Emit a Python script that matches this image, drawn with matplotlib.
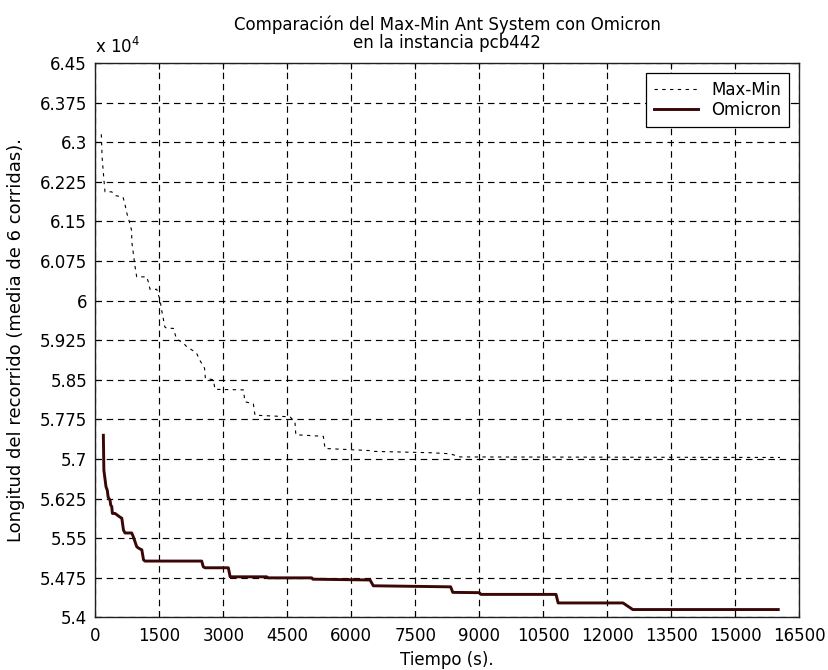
import matplotlib
matplotlib.use("Agg")
import matplotlib.pyplot as plt
from matplotlib.ticker import FuncFormatter, FixedLocator

plt.rcParams['font.family'] = ['DejaVu Sans']

# Max-Min Ant System (time in s, tour length)
maxmin_t = [140, 160, 200, 227, 385, 460, 650, 700, 740, 775, 850, 855, 890, 930,
            970, 1205, 1240, 1282, 1440, 1480, 1520, 1540, 1590, 1630, 1673, 1828,
            1905, 2060, 2140, 2370, 2450, 2560, 2580, 2766, 2806, 3469, 3509, 3704,
            3743, 4564, 4680, 4700, 5345, 5385, 6440, 6519, 7846, 8315, 8550, 16050]
maxmin_v = [63150, 62700, 62300, 62060, 62060, 61990, 61960, 61800, 61650, 61560,
            61330, 61110, 60900, 60650, 60450, 60450, 60360, 60214, 60214, 60100,
            60020, 59880, 59670, 59500, 59475, 59475, 59270, 59200, 59130, 59010,
            58870, 58720, 58530, 58500, 58320, 58310, 58085, 58045, 57830, 57800,
            57700, 57460, 57430, 57200, 57160, 57145, 57120, 57100, 57040, 57030]

# Omicron
omicron_t = [188, 200, 250, 280, 300, 345, 360, 385, 400, 462, 579, 620, 660, 696,
             853, 890, 970, 1010, 1090, 1130, 1165, 2494, 2530, 2571, 3118, 3160,
             4017, 4056, 5072, 5100, 6440, 6517, 8330, 8380, 9000, 9040, 10800,
             10850, 12370, 12600, 16010]
omicron_v = [57450, 56790, 56475, 56410, 56280, 56220, 56130, 56100, 55970, 55970,
             55900, 55880, 55655, 55600, 55600, 55530, 55340, 55315, 55280, 55090,
             55068, 55068, 54960, 54941, 54941, 54770, 54770, 54750, 54750, 54725,
             54710, 54600, 54580, 54475, 54470, 54437, 54437, 54275, 54275, 54150,
             54150]

xticks = [0, 1500, 3000, 4500, 6000, 7500, 9000, 10500, 12000, 13500, 15000, 16500]
yticks = [54000 + 750 * k for k in range(15)]

FS = 12

fig = plt.figure(figsize=(8.29, 6.70), dpi=100)
ax = fig.add_axes([0.115, 0.0784, 0.849, 0.8276])

ax.plot(maxmin_t, maxmin_v, color='black', linewidth=0.8,
        linestyle=(0, (3, 4)), label='Max-Min')
ax.plot(omicron_t, omicron_v, color='#3a0606', linewidth=2.1,
        linestyle='-', label='Omicron')

ax.set_xlim(0, 16500)
ax.set_ylim(54000, 64500)
ax.xaxis.set_major_locator(FixedLocator(xticks))
ax.yaxis.set_major_locator(FixedLocator(yticks))
ax.yaxis.set_major_formatter(FuncFormatter(lambda v, p: '%g' % round(v / 1e4, 4)))
ax.xaxis.set_major_formatter(FuncFormatter(lambda v, p: '%d' % v))

ax.grid(True, color='black', linestyle=(0, (5.5, 4)), linewidth=0.85)
ax.tick_params(axis='both', direction='in', length=4, width=0.8, top=True, right=True,
               labelsize=FS, colors='black')
ax.tick_params(axis='y', pad=6)
ax.tick_params(axis='x', pad=7)
for s in ax.spines.values():
    s.set_linewidth(1.0)
    s.set_color('#202020')

ax.text(0.0, 1.011, r'x 10$^{4}$', transform=ax.transAxes, fontsize=FS,
        ha='left', va='bottom')
ax.set_title('Comparación del Max-Min Ant System con Omicron\nen la instancia pcb442',
             fontsize=FS, pad=11, linespacing=1.0)
ax.set_xlabel('Tiempo (s).', fontsize=FS, labelpad=4)
ax.set_ylabel('Longitud del recorrido (media de 6 corridas).', fontsize=13)
ax.yaxis.set_label_coords(-0.100, 0.5)

leg = ax.legend(loc='upper right', fontsize=FS, frameon=True, fancybox=False,
                framealpha=1, edgecolor='black', borderaxespad=0.58,
                handlelength=2.6, handletextpad=0.8, borderpad=0.5,
                labelspacing=0.1)
leg.get_frame().set_linewidth(0.9)

fig.savefig('out.png', dpi=100)
